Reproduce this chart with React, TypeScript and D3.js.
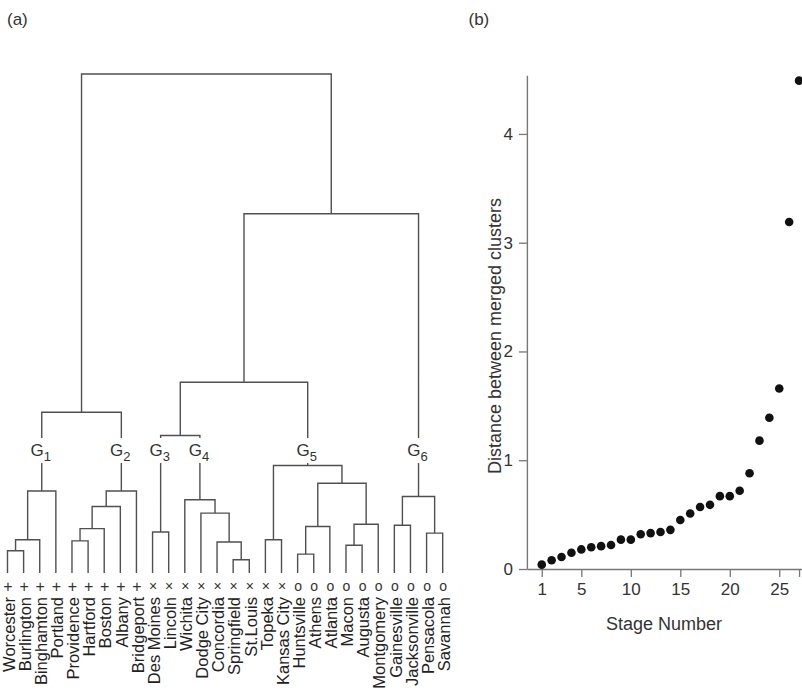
import React, { useEffect, useRef } from "react";
import * as d3 from "d3";

// ---------- Panel (a): dendrogram data ----------
const leaves = [
  "Worcester", "Burlington", "Binghamton", "Portland", "Providence", "Hartford",
  "Boston", "Albany", "Bridgeport", "Des Moines", "Lincoln", "Wichita",
  "Dodge City", "Concordia", "Springfield", "St.Louis", "Topeka", "Kansas City",
  "Huntsville", "Athens", "Atlanta", "Macon", "Augusta", "Montgomery",
  "Gainesville", "Jacksonville", "Pensacola", "Savannah",
];
const leafSymbols = [
  "+", "+", "+", "+", "+", "+", "+", "+", "+",
  "×", "×", "×", "×", "×", "×", "×", "×", "×",
  "o", "o", "o", "o", "o", "o", "o", "o", "o", "o",
];
// hclust-style merges: negative = leaf (1-based), positive = earlier merge (1-based)
const merges: [number, number][] = [
  [-15, -16], [-19, -20], [-1, -2], [-22, -23], [-14, 1], [-5, -6], [-17, -18],
  [3, -3], [-27, -28], [-10, -11], [6, -7], [2, -21], [-25, -26], [4, -24],
  [-13, 5], [11, -8], [-12, 15], [13, 9], [8, -4], [16, -9], [12, 14],
  [7, 21], [10, 17], [19, 20], [23, 22], [25, 18], [24, 26],
];
const mergeHeights = [
  0.12, 0.17, 0.2, 0.25, 0.28, 0.29, 0.3, 0.3, 0.36, 0.37, 0.4, 0.42, 0.43, 0.44,
  0.54, 0.6, 0.66, 0.69, 0.74, 0.74, 0.81, 0.97, 1.24, 1.45, 1.72, 3.24, 4.5,
];
const groupMerges = [19, 20, 10, 17, 22, 18];
const groupNames = ["1", "2", "3", "4", "5", "6"];

// ---------- Panel (b): merge distances ----------
const distances = [
  0.04, 0.08, 0.11, 0.15, 0.18, 0.2, 0.21, 0.22, 0.27, 0.27, 0.32, 0.33, 0.34,
  0.36, 0.45, 0.51, 0.57, 0.59, 0.67, 0.67, 0.72, 0.88, 1.18, 1.39, 1.66, 3.19, 4.49,
];
const xTicks = [1, 5, 10, 15, 20, 25, 27];
const xTickLabels = ["1", "5", "10", "15", "20", "25", ""];
const yTicks = [0, 1, 2, 3, 4];

const FONT = "'Liberation Sans', Arial, Helvetica, sans-serif";
const W = 802;
const H = 690;

export default function App() {
  const ref = useRef<SVGSVGElement | null>(null);

  useEffect(() => {
    const svg = d3.select(ref.current);
    svg.selectAll("*").remove();

    // ===== Panel (a) =====
    const gA = svg.append("g");
    const xLeaf = d3.scalePoint<string>().domain(leaves).range([7.5, 442.7]);
    const yD = d3.scaleLinear().domain([0, 4.5]).range([573, 74]);

    type Node = { x: number; h: number };
    const nodes: Node[] = [];
    const getNode = (id: number): Node =>
      id < 0 ? { x: xLeaf(leaves[-id - 1]) as number, h: 0 } : nodes[id - 1];

    const segs: string[] = [];
    merges.forEach(([a, b], i) => {
      const na = getNode(a);
      const nb = getNode(b);
      const h = mergeHeights[i];
      const left = na.x <= nb.x ? na : nb;
      const right = na.x <= nb.x ? nb : na;
      nodes.push({ x: (left.x + right.x) / 2, h });
      segs.push(
        `M${left.x},${yD(left.h)}V${yD(h)}H${right.x}V${yD(right.h)}`
      );
    });

    gA.append("g")
      .selectAll("path")
      .data(segs)
      .join("path")
      .attr("d", (d) => d)
      .attr("fill", "none")
      .attr("stroke", "#505050")
      .attr("stroke-width", 1.4);

    // group labels with white masks
    const gl = gA.append("g");
    groupMerges.forEach((m, i) => {
      const n = nodes[m - 1];
      gl.append("rect")
        .attr("x", n.x - 14)
        .attr("y", 438)
        .attr("width", 28)
        .attr("height", 25)
        .attr("fill", "white");
      const t = gl
        .append("text")
        .attr("x", n.x - 1)
        .attr("y", 456)
        .attr("text-anchor", "middle")
        .attr("font-family", FONT)
        .attr("font-size", 17)
        .attr("fill", "#333");
      t.append("tspan").text("G");
      t.append("tspan").attr("font-size", 13).attr("dy", 5).text(groupNames[i]);
    });

    // leaf symbols
    gA.append("g")
      .selectAll("text")
      .data(leaves)
      .join("text")
      .attr("x", (d) => (xLeaf(d) as number) + 0.5)
      .attr("y", 586.5)
      .attr("dy", "0.35em")
      .attr("text-anchor", "middle")
      .attr("font-family", FONT)
      .attr("font-size", (_, i) => (leafSymbols[i] === "+" ? 16 : 14))
      .attr("fill", "#333")
      .text((_, i) => leafSymbols[i]);

    // leaf labels
    gA.append("g")
      .selectAll("text")
      .data(leaves)
      .join("text")
      .attr("transform", (d) => `translate(${xLeaf(d)},597) rotate(-90)`)
      .attr("dy", "0.44em")
      .attr("text-anchor", "end")
      .attr("font-family", FONT)
      .attr("font-size", 16.5)
      .attr("fill", "#222")
      .text((d) => d);

    svg.append("text")
      .attr("x", 7)
      .attr("y", 25)
      .attr("font-family", FONT)
      .attr("font-size", 17)
      .attr("fill", "#333")
      .text("(a)");

    // ===== Panel (b) =====
    const x = d3.scaleLinear().domain([-0.5, 28.5]).range([526.9, 813.9]);
    const y = d3.scaleLinear().domain([0, 4.54]).range([569, 75.2]);
    const gB = svg.append("g");

    const xAxis = d3
      .axisBottom(x)
      .tickValues(xTicks)
      .tickFormat((_, i) => xTickLabels[i])
      .tickSize(8)
      .tickPadding(6)
      .tickSizeOuter(0);
    const gx = gB.append("g").attr("transform", `translate(0,${y(0)})`).call(xAxis);

    const yAxis = d3
      .axisLeft(y)
      .tickValues(yTicks)
      .tickFormat(d3.format("d"))
      .tickSize(8)
      .tickPadding(6)
      .tickSizeOuter(0);
    const gy = gB.append("g").attr("transform", `translate(${x(-0.5)},0)`).call(yAxis);

    [gx, gy].forEach((g) => {
      g.select(".domain").attr("stroke", "#777").attr("stroke-width", 1.4);
      g.selectAll(".tick line").attr("stroke", "#777").attr("stroke-width", 1.3);
      g.selectAll(".tick text")
        .attr("font-family", FONT)
        .attr("font-size", 17)
        .attr("fill", "#333");
    });

    gB.append("g")
      .selectAll("circle")
      .data(distances)
      .join("circle")
      .attr("cx", (_, i) => x(i + 1))
      .attr("cy", (d) => y(d))
      .attr("r", 4.3)
      .attr("fill", "#111");

    gB.append("text")
      .attr("x", 664)
      .attr("y", 630)
      .attr("text-anchor", "middle")
      .attr("font-family", FONT)
      .attr("font-size", 18)
      .attr("fill", "#333")
      .text("Stage Number");

    gB.append("text")
      .attr("transform", "translate(501,336) rotate(-90)")
      .attr("text-anchor", "middle")
      .attr("font-family", FONT)
      .attr("font-size", 18)
      .attr("fill", "#333")
      .text("Distance between merged clusters");

    svg.append("text")
      .attr("x", 468.5)
      .attr("y", 25)
      .attr("font-family", FONT)
      .attr("font-size", 17)
      .attr("fill", "#333")
      .text("(b)");
  }, []);

  return (
    <svg
      ref={ref}
      width={W}
      height={H}
      style={{ position: "absolute", left: 0, top: 0, background: "white" }}
    />
  );
}
